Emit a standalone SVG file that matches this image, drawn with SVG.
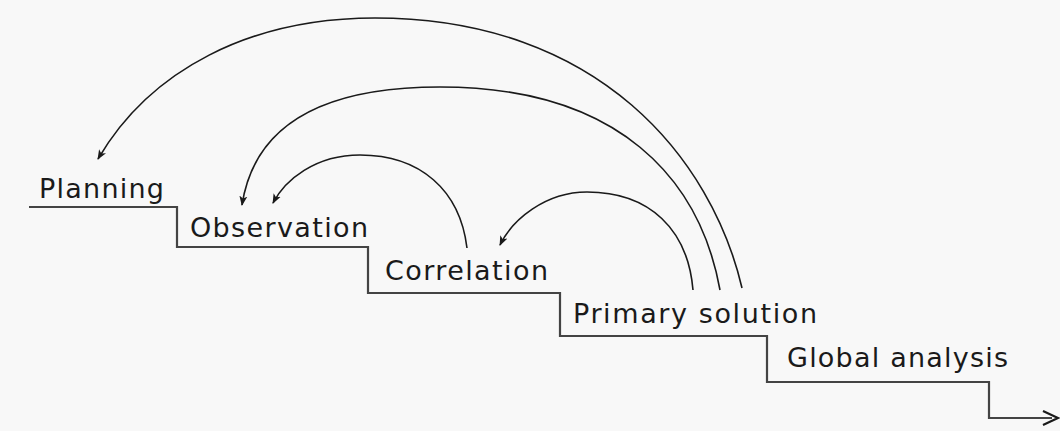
<svg xmlns="http://www.w3.org/2000/svg" width="1060" height="431" viewBox="0 0 1060 431">
<style>
.lbl{font-family:"DejaVu Sans","Verdana",sans-serif;font-size:27px;fill:#1a1a1a}
.arc{fill:none;stroke:#1a1a1a;stroke-width:1.6}
.stair{fill:none;stroke:#444;stroke-width:2.2}
</style>
<defs>
<marker id="ah" viewBox="0 0 10 10" refX="9" refY="5" markerWidth="10" markerHeight="10" markerUnits="userSpaceOnUse" orient="auto">
<path d="M0,1 L10,5 L0,9 L2.5,5 Z" fill="#1a1a1a"/>
</marker>
</defs>
<rect width="1060" height="431" fill="#f8f8f8"/>
<g id="steps">
<path class="stair" d="M29,207 H177 V247 H368 V293 H560 V336 H767 V382 H989 V418 H1052"/>
<path d="M1043,411 L1058,418 L1043,425" fill="none" stroke="#1a1a1a" stroke-width="2.2"/>
</g>
<g id="node-planning"><text class="lbl" x="39" y="198" textLength="125" lengthAdjust="spacing">Planning</text></g>
<g id="node-observation"><text class="lbl" x="190" y="237" textLength="178" lengthAdjust="spacing">Observation</text></g>
<g id="node-correlation"><text class="lbl" x="385" y="280" textLength="163" lengthAdjust="spacing">Correlation</text></g>
<g id="node-primary"><text class="lbl" x="573" y="323" textLength="244" lengthAdjust="spacing">Primary solution</text></g>
<g id="node-global"><text class="lbl" x="787" y="367" textLength="221" lengthAdjust="spacing">Global analysis</text></g>
<g id="connectors">
<path class="arc" marker-end="url(#ah)" d="M742,288 C712,160 600,18 375,18 C250,18 150,70 98,159"/>
<path class="arc" marker-end="url(#ah)" d="M720,290 C700,180 620,87 440,87 C330,87 255,120 242,205"/>
<path class="arc" marker-end="url(#ah)" d="M467,248 C460,190 420,155 360,155 C315,155 285,180 273,203"/>
<path class="arc" marker-end="url(#ah)" d="M693,290 C688,230 650,192 587,192 C545,192 512,220 500,245"/>
</g>
</svg>
